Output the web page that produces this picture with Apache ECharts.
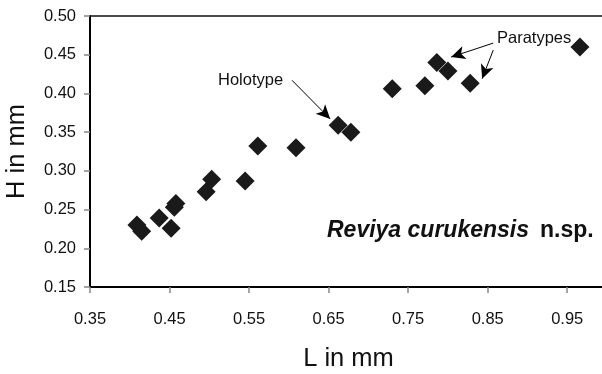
<!DOCTYPE html>
<html>
<head>
<meta charset="utf-8">
<script src="https://cdn.jsdelivr.net/npm/echarts@6/dist/echarts.min.js"></script>
<style>
  html, body { margin: 0; padding: 0; background: #fff; }
  #main { width: 602px; height: 374px; }
</style>
</head>
<body>
<div id="main"></div>
<script>
// L and H of each specimen (mm)
const lengths = [0.409, 0.415, 0.437, 0.452, 0.456, 0.458, 0.496, 0.503, 0.545, 0.561,
  0.609, 0.662, 0.678, 0.730, 0.771, 0.786, 0.800, 0.828, 0.966];
const heights = [0.230, 0.222, 0.239, 0.226, 0.253, 0.258, 0.273, 0.289, 0.287, 0.332,
  0.330, 0.359, 0.350, 0.406, 0.410, 0.440, 0.429, 0.413, 0.460];

// arrows: [fromL, fromH, toL, toH]
const holotypeArrow = [0.604, 0.417, 0.652, 0.367];
const paratypeArrows = [
  [0.857, 0.465, 0.804, 0.447],
  [0.857, 0.456, 0.843, 0.419]
];

const points = lengths.map((l, i) => [l, heights[i]]);
const arrowLines = [holotypeArrow].concat(paratypeArrows).map(a => [
  {coord: [a[0], a[1]]}, {coord: [a[2], a[3]]}
]);

const font = '"Liberation Sans", Arial, sans-serif';
const chart = echarts.init(document.getElementById('main'));

chart.setOption({
  animation: false,
  textStyle: {fontFamily: font},
  grid: {
    left: 90, top: 16, right: -5, bottom: 87,
    outerBoundsMode: 'none',
    containLabel: false,
    show: true, borderColor: '#111', borderWidth: 1.5
  },
  xAxis: {
    type: 'value',
    min: 0.35, max: 1.0, interval: 0.1,
    name: 'L in mm',
    nameLocation: 'middle',
    nameGap: 59,
    nameTextStyle: {fontSize: 25.5, color: '#111', fontFamily: font},
    axisLine: {lineStyle: {color: '#000', width: 2}},
    axisTick: {show: true, length: 6, lineStyle: {color: '#888', width: 1.5}},
    axisLabel: {
      margin: 24, fontSize: 16.5, color: '#111', fontFamily: font,
      showMaxLabel: false,
      formatter: v => v.toFixed(2)
    },
    splitLine: {show: false}
  },
  yAxis: {
    type: 'value',
    min: 0.15, max: 0.5, interval: 0.05,
    name: 'H in mm',
    nameLocation: 'middle',
    nameGap: 60,
    nameTextStyle: {fontSize: 25.5, color: '#111', fontFamily: font},
    axisLine: {show: true, lineStyle: {color: '#000', width: 2}},
    axisTick: {show: true, length: 6, lineStyle: {color: '#888', width: 1.5}},
    axisLabel: {
      margin: 14, fontSize: 16.5, color: '#111', fontFamily: font,
      formatter: v => v.toFixed(2)
    },
    splitLine: {show: false}
  },
  series: [{
    type: 'scatter',
    data: points,
    symbol: 'diamond',
    symbolSize: [19, 19],
    itemStyle: {color: '#1a1a1a', opacity: 1},
    markLine: {
      silent: true,
      symbol: ['none', 'arrow'],
      symbolSize: [10, 14],
      label: {show: false},
      lineStyle: {color: '#000', width: 1, type: 'solid', opacity: 1},
      data: arrowLines
    }
  }],
  graphic: [
    {
      type: 'text', left: 218, top: 72,
      style: {text: 'Holotype', fontSize: 16.5, fill: '#111', fontFamily: font}
    },
    {
      type: 'text', left: 497, top: 30,
      style: {text: 'Paratypes', fontSize: 16.5, fill: '#111', fontFamily: font}
    },
    {
      type: 'text', left: 327, top: 219,
      style: {
        text: '{a|Reviya curukensis}{s| }{b|n.sp.}',
        fontFamily: font,
        rich: {
          a: {fontSize: 23, fontWeight: 'bold', fontStyle: 'italic', fill: '#111', fontFamily: font},
          s: {fontSize: 23, width: 11},
          b: {fontSize: 23, fontWeight: 'bold', fill: '#111', fontFamily: font}
        }
      }
    }
  ]
});
</script>
</body>
</html>
